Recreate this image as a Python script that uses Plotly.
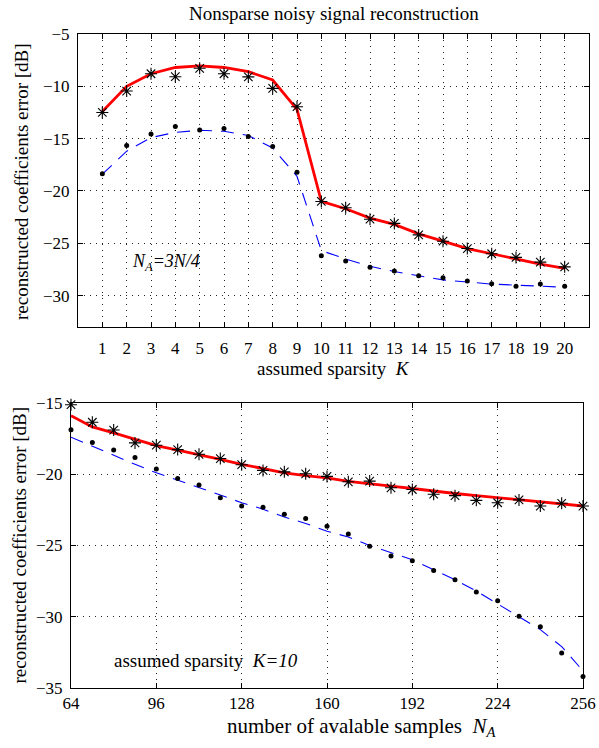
import plotly.graph_objects as go

# ---------------- data ----------------
K = list(range(1, 21))
top_star = [-12.5, -10.45, -8.8, -9.08, -8.28, -8.8, -9.1, -10.2, -11.95, -21.0,
            -21.6, -22.7, -23.1, -24.2, -24.8, -25.5, -26.0, -26.35, -26.8, -27.25]
top_red = [-12.4, -10.0, -8.8, -8.2, -8.05, -8.2, -8.6, -9.4, -12.2, -21.0,
           -21.7, -22.6, -23.2, -24.1, -24.8, -25.5, -26.0, -26.5, -27.0, -27.4]
top_dot = [-18.36, -15.65, -14.56, -13.83, -14.18, -14.02, -14.8, -15.74, -18.2, -26.2,
           -26.7, -27.3, -27.66, -28.1, -28.3, -28.6, -28.87, -29.1, -28.9, -29.1]
top_blue = [-18.4, -16.2, -14.9, -14.4, -14.2, -14.3, -14.7, -15.9, -18.6, -25.7,
            -26.5, -27.2, -27.7, -28.1, -28.5, -28.7, -28.9, -29.0, -29.1, -29.2]

NA = list(range(64, 257, 8))
bot_star = [-15.12, -16.35, -16.9, -17.8, -17.96, -18.27, -18.6, -18.9, -19.33, -19.73,
            -19.83, -19.97, -20.15, -20.53, -20.48, -20.95, -21.07, -21.4, -21.5, -21.83,
            -22.0, -21.8, -22.23, -22.04, -22.23]
bot_red = [-15.89, -16.68, -17.1, -17.57, -17.99, -18.3, -18.6, -18.95, -19.3, -19.6,
           -19.9, -20.1, -20.25, -20.5, -20.64, -20.83, -21.0, -21.2, -21.35, -21.5,
           -21.65, -21.8, -21.95, -22.1, -22.23]
bot_dot = [-16.87, -17.78, -18.3, -18.83, -19.64, -20.3, -20.76, -21.65, -22.23, -22.32,
           -22.8, -23.1, -23.65, -24.2, -25.05, -25.73, -26.07, -26.75, -27.4, -28.27,
           -28.87, -29.97, -30.7, -32.55, -34.19]
bot_blue = [-17.4, -18.05, -18.65, -19.3, -19.9, -20.4, -20.9, -21.45, -22.0, -22.45,
            -23.0, -23.45, -24.0, -24.4, -25.0, -25.5, -26.0, -26.7, -27.4, -28.2,
            -29.1, -30.0, -30.9, -32.1, -33.8]

top_xticks = K
top_yticks = [-30, -25, -20, -15, -10, -5]
bot_xticks = [64, 96, 128, 160, 192, 224, 256]
bot_yticks = [-35, -30, -25, -20, -15]

# ---------------- figure ----------------
W, H = 599, 748
FONT = "Liberation Serif"


def px(x):
    return x / W


def py(y):
    return 1 - y / H


fig = go.Figure()


def add_set(x, red, star, blue, dot, xa, ya):
    fig.add_trace(go.Scatter(x=x, y=blue, mode="lines", xaxis=xa, yaxis=ya,
                             line=dict(color="#0000ff", width=1.1, dash="13px,9px"),
                             cliponaxis=False, showlegend=False))
    fig.add_trace(go.Scatter(x=x, y=red, mode="lines", xaxis=xa, yaxis=ya,
                             line=dict(color="#ff0000", width=2.8),
                             cliponaxis=False, showlegend=False))
    fig.add_trace(go.Scatter(x=x, y=star, mode="markers", xaxis=xa, yaxis=ya,
                             marker=dict(symbol="asterisk-open", size=10, color="black",
                                         line=dict(color="black", width=1.1)),
                             cliponaxis=False, showlegend=False))
    fig.add_trace(go.Scatter(x=x, y=dot, mode="markers", xaxis=xa, yaxis=ya,
                             marker=dict(symbol="circle", size=5, color="black"),
                             cliponaxis=False, showlegend=False))


add_set(K, top_red, top_star, top_blue, top_dot, "x", "y")
add_set(NA, bot_red, bot_star, bot_blue, bot_dot, "x2", "y2")

common = dict(showline=True, linecolor="black", linewidth=1, mirror="ticks",
              ticks="inside", ticklen=5, tickcolor="black", tickwidth=1,
              showgrid=True, gridcolor="#222222", gridwidth=1, griddash="1px,5px",
              zeroline=False, automargin=False,
              tickfont=dict(family=FONT, size=17, color="black"))

fig.update_layout(
    width=W, height=H,
    font=dict(family=FONT, size=17, color="black"),
    margin=dict(l=0, r=0, t=0, b=0),
    paper_bgcolor="white", plot_bgcolor="white",
    xaxis=dict(common, domain=[px(78), px(589)], range=[0, 21], tickvals=top_xticks,
               anchor="y", ticklabelstandoff=6),
    yaxis=dict(common, domain=[py(327), py(34)], range=[-33, -5], tickvals=top_yticks,
               anchor="x", ticklabelstandoff=4),
    xaxis2=dict(common, domain=[px(71), px(583)], range=[64, 256], tickvals=bot_xticks,
                anchor="y2", ticklabelstandoff=0),
    yaxis2=dict(common, domain=[py(688), py(403)], range=[-35, -15], tickvals=bot_yticks,
                anchor="x2", ticklabelstandoff=4),
)

tf = dict(family=FONT, size=19, color="black")
ann = [
    dict(text="Nonsparse noisy signal reconstruction", x=px(334), y=py(13.5),
         xref="paper", yref="paper", xanchor="center", yanchor="middle", font=tf),
    dict(text="assumed sparsity&nbsp; <i>K</i>", x=px(333.5), y=py(368),
         xref="paper", yref="paper", xanchor="center", yanchor="middle", font=tf),
    dict(text="reconstructed coefficients error [dB]", x=px(22), y=py(182),
         xref="paper", yref="paper", xanchor="center", yanchor="middle",
         textangle=-90, font=tf),
    dict(text="reconstructed coefficients error [dB]", x=px(19), y=py(545.5),
         xref="paper", yref="paper", xanchor="center", yanchor="middle",
         textangle=-90, font=tf),
    dict(text="number of avalable samples&nbsp; <i>N<sub>A</sub></i>", x=px(362), y=py(727),
         xref="paper", yref="paper", xanchor="center", yanchor="middle",
         font=dict(family=FONT, size=21, color="black")),
    dict(text="<i>N<sub>A</sub>=3N/4</i>", x=3.6, y=-26.8, xref="x", yref="y",
         xanchor="center", yanchor="middle", font=dict(family=FONT, size=18, color="black")),
    dict(text="assumed sparsity&nbsp; <i>K=10</i>", x=114.6, y=-33.1, xref="x2", yref="y2",
         xanchor="center", yanchor="middle", font=tf),
]
for a in ann:
    a["showarrow"] = False
fig.update_layout(annotations=ann)

fig.write_html("out.html", config={"displayModeBar": False},
               post_script="document.body.style.margin='0px';"
                           "document.body.style.overflow='hidden';")
